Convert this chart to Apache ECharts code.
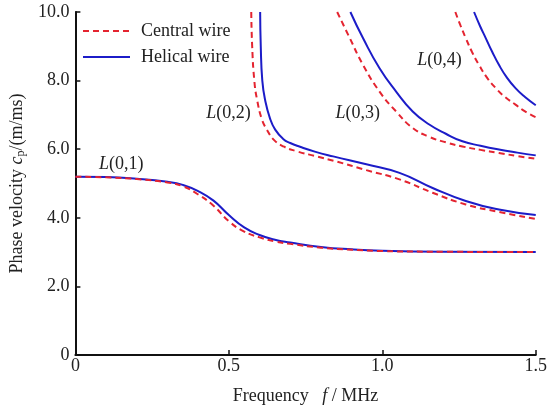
<!DOCTYPE html>
<html>
<head>
<meta charset="utf-8">
<script src="https://cdn.jsdelivr.net/npm/echarts@6/dist/echarts.min.js"></script>
<style>
  html, body { margin: 0; padding: 0; background: #fff; }
  #chart { width: 550px; height: 410px; }
</style>
</head>
<body>
<div id="chart"></div>
<script>
// Axis ticks
const xTicks = [0, 0.5, 1.0, 1.5];
const yTicks = [0, 2, 4, 6, 8, 10];

// L(0,1) mode: frequency (MHz) and phase velocity (m/ms)
const freq01 = [0, 0.1, 0.2, 0.3, 0.35, 0.4, 0.45, 0.5, 0.55, 0.6, 0.65, 0.7, 0.8, 0.9, 1.0, 1.2, 1.5];
const helical01 = [5.20, 5.19, 5.14, 5.05, 4.96, 4.78, 4.50, 4.08, 3.72, 3.50, 3.36, 3.28, 3.15, 3.08, 3.04, 3.01, 3.00];
const central01 = [5.20, 5.18, 5.13, 5.03, 4.92, 4.68, 4.35, 3.90, 3.60, 3.43, 3.31, 3.24, 3.13, 3.07, 3.03, 3.01, 3.00];

// L(0,2) mode
const helical02F = [0.602, 0.604, 0.609, 0.618, 0.634, 0.651, 0.677, 0.70, 0.732, 0.78, 0.84, 0.948, 1.056, 1.164, 1.272, 1.38, 1.5];
const helical02V = [10.0, 9.0, 8.0, 7.44, 6.90, 6.57, 6.30, 6.18, 6.07, 5.93, 5.79, 5.56, 5.31, 4.87, 4.49, 4.24, 4.08];
const central02F = [0.573, 0.576, 0.583, 0.592, 0.608, 0.624, 0.646, 0.678, 0.721, 0.786, 0.851, 0.948, 1.056, 1.164, 1.272, 1.38, 1.5];
const central02V = [10.0, 9.0, 8.0, 7.44, 6.86, 6.57, 6.28, 6.08, 5.94, 5.79, 5.64, 5.39, 5.12, 4.73, 4.39, 4.17, 3.97];

// L(0,3) mode
const helical03F = [0.896, 0.937, 0.991, 1.045, 1.099, 1.153, 1.207, 1.261, 1.32, 1.38, 1.44, 1.5];
const helical03V = [10.0, 9.24, 8.36, 7.68, 7.10, 6.72, 6.45, 6.23, 6.10, 5.99, 5.90, 5.82];
const central03F = [0.853, 0.894, 0.937, 0.991, 1.045, 1.099, 1.153, 1.207, 1.261, 1.32, 1.38, 1.44, 1.5];
const central03V = [10.0, 9.24, 8.46, 7.68, 7.10, 6.62, 6.36, 6.20, 6.08, 5.98, 5.89, 5.80, 5.72];

// L(0,4) mode
const helical04F = [1.299, 1.318, 1.337, 1.358, 1.38, 1.405, 1.434, 1.465, 1.5];
const helical04V = [10.0, 9.60, 9.24, 8.84, 8.46, 8.10, 7.78, 7.52, 7.28];
const central04F = [1.238, 1.255, 1.272, 1.292, 1.315, 1.34, 1.37, 1.40, 1.434, 1.465, 1.5];
const central04V = [10.0, 9.60, 9.24, 8.84, 8.46, 8.10, 7.78, 7.52, 7.30, 7.10, 6.93];

// Mode labels and where they sit (data coordinates)
const modeNames = ['(0,1)', '(0,2)', '(0,3)', '(0,4)'];
const modeLabelF = [0.149, 0.499, 0.92, 1.186];
const modeLabelV = [5.55, 7.06, 7.06, 8.6];

const SERIF = '"Liberation Serif", "DejaVu Serif", serif';
const TEXT = '#222';
const RED = '#e42430';
const BLUE = '#1c1cc8';

function pairs(fs, vs) {
  return fs.map((f, i) => [f, vs[i]]);
}

function helicalSeries(fs, vs) {
  return {
    name: 'Helical wire', type: 'line', data: pairs(fs, vs),
    symbol: 'none', smooth: 0.5,
    lineStyle: { color: BLUE, width: 2 }, itemStyle: { color: BLUE },
    z: 2
  };
}
function centralSeries(fs, vs) {
  return {
    name: 'Central wire', type: 'line', data: pairs(fs, vs),
    symbol: 'none', smooth: 0.5,
    lineStyle: { color: RED, width: 2, type: [6, 4] }, itemStyle: { color: RED },
    z: 3
  };
}

const chart = echarts.init(document.getElementById('chart'), null, { renderer: 'canvas' });

const axisFmt = v => (v === 0 ? '0' : v.toFixed(1));

chart.setOption({
  animation: false,
  backgroundColor: '#fff',
  grid: { left: 74, right: 13, top: 12, bottom: 54, containLabel: false },
  legend: {
    data: ['Central wire', 'Helical wire'],
    orient: 'vertical',
    left: 82, top: 22, padding: 0,
    itemWidth: 47, itemHeight: 14, itemGap: 8,
    itemStyle: { opacity: 0 },
    textStyle: { fontFamily: SERIF, fontSize: 18, color: TEXT, padding: [0, 0, 0, 6] }
  },
  xAxis: {
    type: 'value', min: 0, max: 1.5, interval: 0.5,
    name: '{t|Frequency   }{i|f}{t| / MHz}',
    nameLocation: 'middle', nameGap: 32,
    nameTextStyle: {
      rich: {
        t: { fontFamily: SERIF, fontSize: 18, color: TEXT },
        i: { fontFamily: SERIF, fontSize: 18, color: TEXT, fontStyle: 'italic' }
      }
    },
    axisLine: { lineStyle: { color: '#111', width: 2 } },
    axisTick: { inside: true, length: 5, lineStyle: { color: '#111', width: 1.5 } },
    axisLabel: { formatter: axisFmt, fontFamily: SERIF, fontSize: 18, color: TEXT, margin: 2 },
    splitLine: { show: false }
  },
  yAxis: {
    type: 'value', min: 0, max: 10, interval: 2,
    name: '{t|Phase velocity }{i|c}{s|p}{t|/(m/ms)}',
    nameLocation: 'middle', nameGap: 44, nameRotate: 90,
    nameTextStyle: {
      rich: {
        t: { fontFamily: SERIF, fontSize: 18, color: TEXT, lineHeight: 20 },
        i: { fontFamily: SERIF, fontSize: 18, color: TEXT, fontStyle: 'italic', lineHeight: 20 },
        s: { fontFamily: SERIF, fontSize: 12, color: TEXT, lineHeight: 12, verticalAlign: 'bottom' }
      }
    },
    axisLine: { show: true, lineStyle: { color: '#111', width: 2 } },
    axisTick: { show: true, inside: true, length: 5, lineStyle: { color: '#111', width: 1.5 } },
    axisLabel: { formatter: axisFmt, fontFamily: SERIF, fontSize: 18, color: TEXT, margin: 6 },
    splitLine: { show: false }
  },
  series: [
    helicalSeries(freq01, helical01),
    helicalSeries(helical02F, helical02V),
    helicalSeries(helical03F, helical03V),
    helicalSeries(helical04F, helical04V),
    centralSeries(freq01, central01),
    centralSeries(central02F, central02V),
    centralSeries(central03F, central03V),
    centralSeries(central04F, central04V)
  ]
});

// Mode labels placed through the grid's coordinate system
const labelRich = {
  i: { fontFamily: SERIF, fontSize: 18, fontStyle: 'italic', fill: TEXT },
  n: { fontFamily: SERIF, fontSize: 18, fill: TEXT }
};
chart.setOption({
  graphic: modeNames.map((m, k) => {
    const p = chart.convertToPixel({ gridIndex: 0 }, [modeLabelF[k], modeLabelV[k]]);
    return {
      type: 'text', x: p[0], y: p[1], z: 10,
      style: {
        text: '{i|L}{n|' + m + '}', rich: labelRich,
        align: 'center', verticalAlign: 'middle'
      }
    };
  })
});
</script>
</body>
</html>
